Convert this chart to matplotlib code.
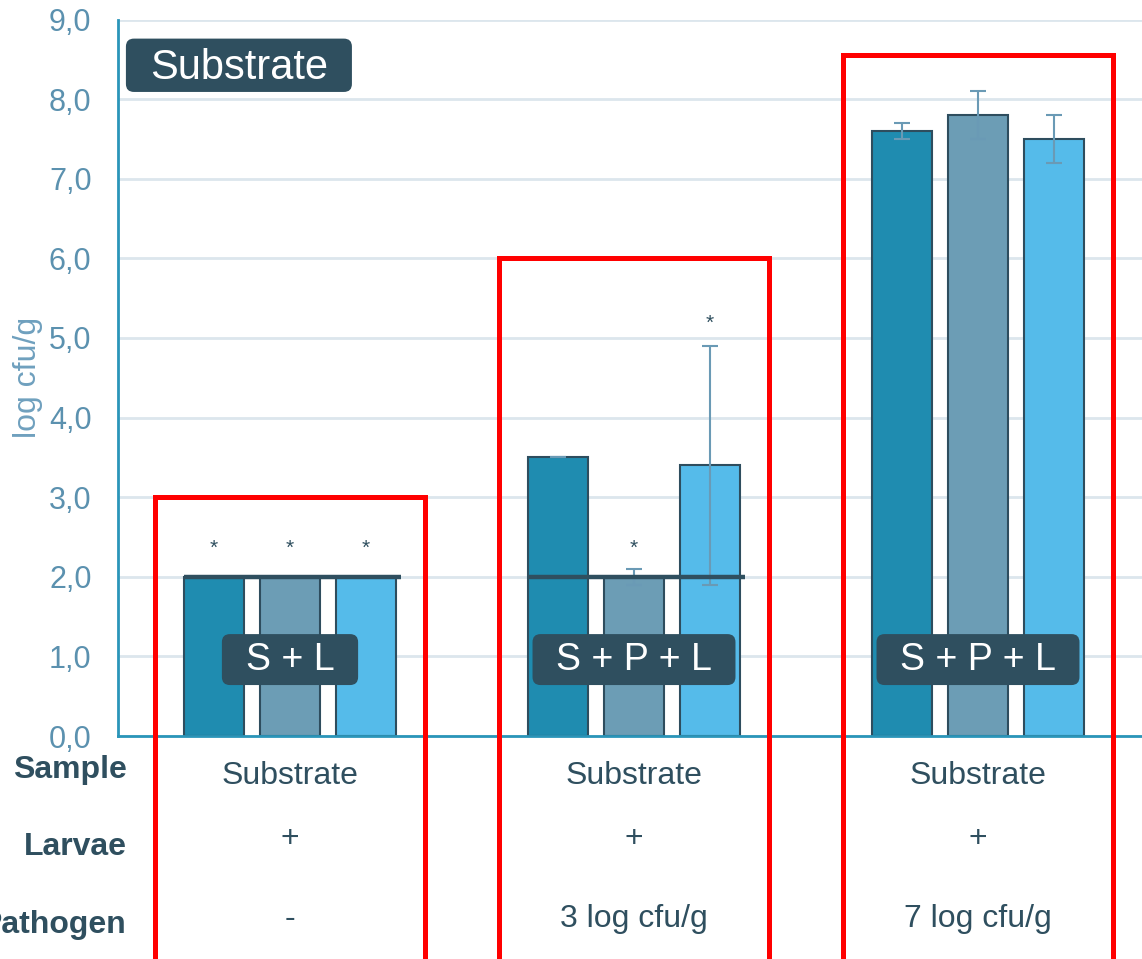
import matplotlib
matplotlib.use("Agg")
import matplotlib.pyplot as plt
from matplotlib.patches import Rectangle, FancyBboxPatch
import numpy as np

plt.rcParams['font.family'] = ['Liberation Sans', 'DejaVu Sans']

# ---- data ----
groups = ["S + L", "S + P + L", "S + P + L"]
sample_row = ["Substrate", "Substrate", "Substrate"]
larvae_row = ["+", "+", "+"]
pathogen_row = ["-", "3 log cfu/g", "7 log cfu/g"]
row_labels = ["Sample", "Larvae", "Pathogen"]

rep1 = [2.0, 3.5, 7.6]
rep2 = [2.0, 2.0, 7.8]
rep3 = [2.0, 3.4, 7.5]
err1 = [0.0, 0.0, 0.1]
err2 = [0.0, 0.1, 0.3]
err3 = [0.0, 1.5, 0.3]

detection_limit = [2.0, 2.0, None]
# asterisk heights (log cfu/g), None = no asterisk
star1 = [2.29, None, None]
star2 = [2.29, 2.29, None]
star3 = [2.29, 5.11, None]
frame_top = [3.0, 6.0, 8.55]

yticks = np.arange(0, 10, 1.0)

# ---- style ----
c1, c2, c3 = "#1F8CB0", "#6C9DB5", "#55BBEA"
edge = "#2E4D5E"
errc = "#6A9AB5"
dark = "#2F4F5F"
tickc = "#5B91AF"
spinec = "#2A95B9"
gridc = "#DCE6ED"

W, H = 1142, 959
fig = plt.figure(figsize=(W / 100, H / 100), dpi=100)
ax_l, ax_r, ax_t, ax_b = 118, 1150, 19.5, 736
ax = fig.add_axes([ax_l / W, 1 - ax_b / H, (ax_r - ax_l) / W, (ax_b - ax_t) / H])
ax.set_xlim(-0.5, 2.5)
ax.set_ylim(0, 9)

x = np.arange(len(groups))
off = 0.221
bw = 0.177
ekw = dict(ecolor=errc, elinewidth=1.5, capsize=6, capthick=1.5)
for vals, errs, col, dx in [(rep1, err1, c1, -off), (rep2, err2, c2, 0), (rep3, err3, c3, off)]:
    ax.bar(x + dx, vals, width=bw, color=col, edgecolor=edge, linewidth=1.5, zorder=3)
    ax.errorbar(x + dx, vals, yerr=errs, fmt="none", zorder=4, **ekw)

# detection limit lines
for i, dl in enumerate(detection_limit):
    if dl is None:
        continue
    ax.plot([x[i] - off - bw / 2, x[i] + off + bw / 2 + 0.012], [dl, dl],
            color=dark, lw=3.2, zorder=5, solid_capstyle="butt")

# asterisks
for stars, dx in [(star1, -off), (star2, 0), (star3, off)]:
    for i, s in enumerate(stars):
        if s is not None:
            ax.text(x[i] + dx, s, "*", ha="center", va="baseline", fontsize=15, color=dark, zorder=6)

# axis styling
ax.set_yticks(yticks)
ax.set_yticklabels([f"{v:.1f}".replace(".", ",") for v in yticks], fontsize=22, color=tickc)
ax.tick_params(axis="y", length=0, pad=19)
ax.set_xticks([])
ax.grid(axis="y", color=gridc, lw=2, zorder=0)
ax.set_axisbelow(True)
for s in ["top", "right"]:
    ax.spines[s].set_visible(False)
for s in ["left", "bottom"]:
    ax.spines[s].set_color(spinec)
    ax.spines[s].set_linewidth(2)
    ax.spines[s].set_zorder(6)

ax.text(-0.087, 0.5, "log cfu/g", transform=ax.transAxes, rotation=90,
        ha="center", va="center", fontsize=23, color="#6FA0BE")

# pixel helpers for rounded boxes
px_x = (ax_r - ax_l) / 3.0
px_y = (ax_b - ax_t) / 9.0
asp = px_x / px_y
rr = 8 / px_x

def rbox(x0, y0, x1, y1, text, fs, dy=0.0):
    p = FancyBboxPatch((x0, y0), x1 - x0, y1 - y0,
                       boxstyle=f"round,pad=0,rounding_size={rr}",
                       mutation_aspect=asp, facecolor=dark, edgecolor="none",
                       zorder=7, clip_on=False)
    ax.add_patch(p)
    ax.text((x0 + x1) / 2, (y0 + y1) / 2 + dy, text, ha="center", va="center",
            fontsize=fs, color="white", zorder=8)

# group label boxes
widths = [0.198, 0.295, 0.295]
for i, g in enumerate(groups):
    rbox(x[i] - widths[i], 0.64, x[i] + widths[i], 1.28, g, 27)

# "Substrate" box
rbox(-0.477, 8.09, 0.180, 8.76, "Substrate", 30, dy=-0.04)

# red frames
for i, t in enumerate(frame_top):
    r = Rectangle((x[i] - 0.393, -4.0), 0.786, t + 4.0, fill=False,
                  edgecolor="#FF0000", lw=3.6, zorder=9, clip_on=False)
    ax.add_patch(r)

# table rows under axis
row_y = [-0.50, -1.30, -2.30]
rows = [sample_row, larvae_row, pathogen_row]
for ry, row in zip(row_y, rows):
    for i, t in enumerate(row):
        ax.text(x[i], ry, t, ha="center", va="center", fontsize=23, color=dark, clip_on=False)
lab_y = [-0.43, -1.40, -2.38]
for ly, lab in zip(lab_y, row_labels):
    ax.text(-0.474, ly, lab, ha="right", va="center", fontsize=23, fontweight="bold",
            color=dark, clip_on=False)

fig.savefig("out.png", dpi=100)
